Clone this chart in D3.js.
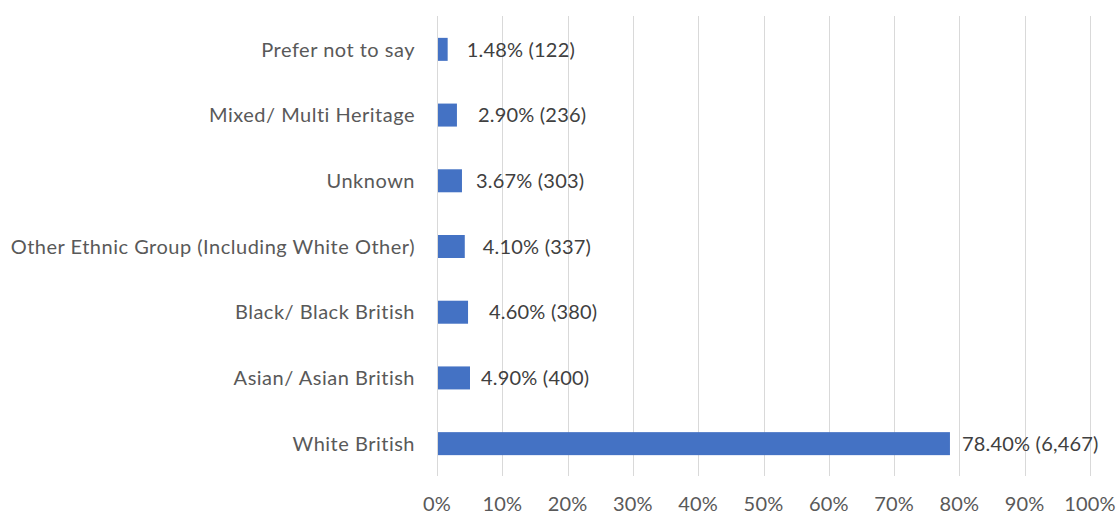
<!DOCTYPE html>
<html>
<head>
<meta charset="utf-8">
<script src="https://cdn.jsdelivr.net/npm/d3@7"></script>
<style>
  body { margin: 0; background: #fff; }
  svg { display: block; }
</style>
</head>
<body>
<svg id="chart"></svg>
<script>
// categories top to bottom
const groups = ["Prefer not to say", "Mixed/ Multi Heritage", "Unknown",
  "Other Ethnic Group (Including White Other)", "Black/ Black British",
  "Asian/ Asian British", "White British"];
const percents = [1.48, 2.90, 3.67, 4.10, 4.60, 4.90, 78.40];
const counts = [122, 236, 303, 337, 380, 400, 6467];
const xTicks = [0, 10, 20, 30, 40, 50, 60, 70, 80, 90, 100];

// excel puts the labels a bit unevenly
const labelDx = [20, 22, 15, 19, 22, 12, 13];

const width = 1117, height = 514;
const font = "Lato, 'Open Sans', sans-serif";

const svg = d3.select("#chart")
    .attr("width", width)
    .attr("height", height);

const x = d3.scaleLinear().domain([0, 100]).range([437, 1090]);
const y = d3.scaleBand().domain(groups).range([16.5, 476.5]).paddingInner(0.65).paddingOuter(0.325);

// gridlines
svg.append("g")
  .selectAll("line")
  .data(xTicks)
  .join("line")
    .attr("x1", d => Math.round(x(d)) + 0.5)
    .attr("x2", d => Math.round(x(d)) + 0.5)
    .attr("y1", 16)
    .attr("y2", 476)
    .attr("stroke", "#d9d9d9")
    .attr("stroke-width", 1);

// bars
svg.append("g")
  .selectAll("rect")
  .data(groups)
  .join("rect")
    .attr("x", x(0) + 1)
    .attr("y", d => y(d))
    .attr("width", (d, i) => x(percents[i]) - x(0))
    .attr("height", y.bandwidth())
    .attr("fill", "#4472c4");

// data labels
svg.append("g")
  .attr("font-family", font)
  .attr("font-size", 20)
  .attr("letter-spacing", 0.2)
  .attr("fill", "#404040")
  .selectAll("text")
  .data(groups)
  .join("text")
    .attr("x", (d, i) => x(percents[i]) + labelDx[i])
    .attr("y", d => y(d) + y.bandwidth() / 2)
    .attr("dy", "0.36em")
    .text((d, i) => percents[i].toFixed(2) + "% (" + d3.format(",")(counts[i]) + ")");

// category axis labels
svg.append("g")
  .attr("font-family", font)
  .attr("font-size", 20)
  .attr("letter-spacing", 0.5)
  .attr("fill", "#595959")
  .attr("text-anchor", "end")
  .selectAll("text")
  .data(groups)
  .join("text")
    .attr("x", 415)
    .attr("y", d => y(d) + y.bandwidth() / 2)
    .attr("dy", "0.36em")
    .text(d => d);

// x tick labels
svg.append("g")
  .attr("font-family", font)
  .attr("font-size", 20)
  .attr("letter-spacing", 0.2)
  .attr("fill", "#595959")
  .attr("text-anchor", "middle")
  .selectAll("text")
  .data(xTicks)
  .join("text")
    .attr("x", d => x(d))
    .attr("y", 511)
    .text(d => d + "%");
</script>
</body>
</html>
